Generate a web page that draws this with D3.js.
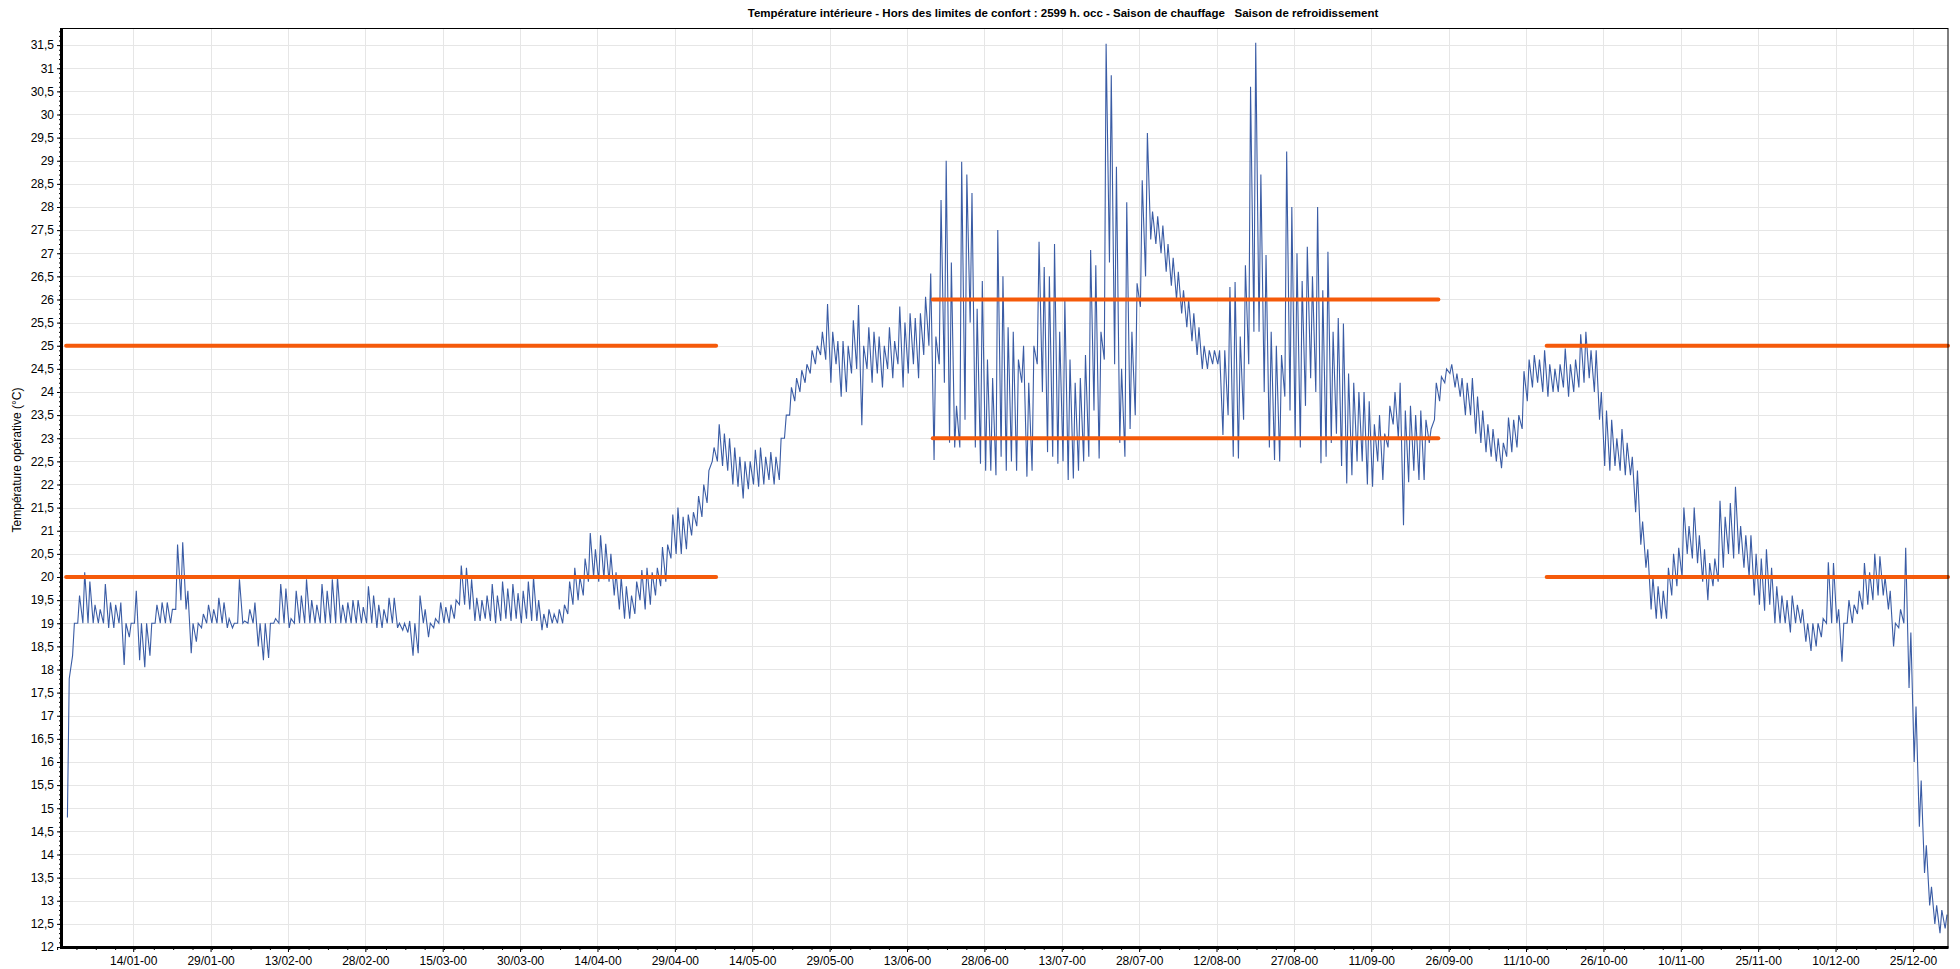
<!doctype html>
<html>
<head>
<meta charset="utf-8">
<title>Température intérieure</title>
<script src="https://d3js.org/d3.v7.min.js"></script>
<style>
  body { margin: 0; background: #fff; }
  text { font-family: "Liberation Sans", Arial, sans-serif; fill: #000; }
  .grid line { stroke: #e6e6e6; stroke-width: 1; }
</style>
</head>
<body>
<script>
// hourly series reduced to daily low / high (day 0 = 1 Jan)
var tMin = [
  14.8, 18.3, 19.0, 19.0, 19.0, 19.0, 19.0, 19.0, 18.9, 18.9,
  19.0, 18.1, 18.7, 19.0, 18.2, 18.05, 18.3, 19.0, 19.0, 19.0,
  19.0, 19.3, 19.5, 19.3, 18.35, 18.6, 18.9, 19.0, 19.0, 19.0,
  19.0, 18.9, 18.9, 19.0, 19.0, 19.0, 19.0, 18.5, 18.2, 18.25,
  19.0, 19.0, 19.0, 18.9, 19.0, 19.0, 19.0, 19.0, 19.0, 19.0,
  19.0, 19.0, 19.0, 19.0, 19.0, 19.0, 19.0, 19.0, 19.0, 19.0,
  18.9, 18.9, 19.0, 19.0, 18.9, 18.85, 18.8, 18.3, 18.35, 19.0,
  18.7, 18.9, 19.0, 19.0, 19.0, 19.1, 19.4, 19.4, 19.3, 19.05,
  19.05, 19.1, 19.05, 19.0, 19.05, 19.1, 19.05, 19.1, 19.0, 19.1,
  19.05, 19.05, 18.85, 18.9, 19.0, 19.0, 19.0, 19.2, 19.4, 19.5,
  19.6, 19.9, 20.0, 19.9, 19.95, 19.9, 19.6, 19.3, 19.1, 19.1,
  19.2, 19.5, 19.3, 19.4, 19.6, 19.8, 19.9, 20.4, 20.5, 20.5,
  20.6, 20.9, 21.1, 21.3, 21.6, 22.5, 22.5, 22.4, 22.3, 22.0,
  21.95, 21.7, 21.9, 22.0, 21.95, 22.0, 22.1, 22.0, 22.1, 23.0,
  23.5, 23.8, 24.0, 24.2, 24.4, 24.6, 24.8, 24.7, 24.2, 24.6,
  23.9, 24.0, 24.4, 24.5, 23.28, 24.5, 24.2, 24.4, 24.1, 24.5,
  24.3, 24.6, 24.1, 24.4, 24.6, 24.3, 24.8, 25.0, 22.53, 24.6,
  24.2, 22.9, 22.8, 22.8, 23.4, 25.5, 22.8, 22.45, 22.3, 22.3,
  22.2, 22.6, 22.3, 22.5, 22.3, 24.2, 22.17, 22.3, 24.6, 24.0,
  22.7, 22.6, 22.45, 22.5, 22.1, 22.13, 22.3, 22.5, 22.6, 23.6,
  22.56, 24.7, 26.8, 24.6, 22.9, 22.6, 23.2, 23.5, 25.84, 26.5,
  27.3, 27.2, 27.0, 26.6, 26.3, 26.0, 25.7, 25.4, 25.1, 24.8,
  24.5, 24.5, 24.6, 24.6, 23.07, 23.5, 22.6, 22.56, 23.4, 24.6,
  25.3, 25.3, 24.0, 22.8, 22.53, 22.5, 23.9, 23.6, 23.0, 22.8,
  23.7, 24.3, 24.0, 22.46, 22.6, 22.9, 23.1, 22.4, 22.02, 22.2,
  22.5, 22.5, 22.0, 21.95, 22.5, 22.1, 22.8, 23.3, 23.0, 21.12,
  22.05, 22.3, 22.1, 22.1, 22.9, 23.4, 23.8, 24.2, 24.4, 24.1,
  23.9, 23.5, 23.5, 23.1, 22.9, 22.7, 22.6, 22.5, 22.35, 22.6,
  22.7, 22.8, 23.2, 23.8, 24.1, 24.2, 24.0, 23.9, 24.0, 24.0,
  24.1, 23.9, 24.0, 24.1, 24.2, 24.3, 24.0, 23.4, 22.4, 22.3,
  22.4, 22.3, 22.2, 22.2, 21.4, 20.7, 20.2, 19.3, 19.1, 19.1,
  19.1, 19.6, 19.8, 20.0, 20.5, 20.4, 20.3, 19.9, 19.5, 19.8,
  19.9, 20.2, 20.5, 20.4, 20.5, 20.2, 20.0, 19.6, 19.4, 19.27,
  19.4, 19.0, 19.0, 19.0, 18.8, 19.0, 19.0, 18.6, 18.4, 18.5,
  18.7, 19.0, 19.0, 19.0, 18.17, 19.0, 19.0, 19.2, 19.3, 19.4,
  19.5, 19.6, 19.6, 19.3, 18.5, 18.9, 19.0, 17.6, 16.0, 14.6,
  13.6, 12.9, 12.5, 12.3, 12.4
];
var tMax = [
  17.8, 19.0, 19.6, 20.1, 19.9, 19.4, 19.3, 19.85, 19.45, 19.4,
  19.45, 19.0, 19.0, 19.7, 19.0, 19.0, 19.0, 19.4, 19.45, 19.45,
  19.3, 20.7, 20.75, 19.7, 19.0, 19.0, 19.2, 19.4, 19.3, 19.55,
  19.45, 19.1, 19.0, 19.95, 19.05, 19.3, 19.45, 19.0, 19.0, 19.0,
  19.1, 19.85, 19.75, 19.1, 19.7, 19.6, 19.95, 19.5, 19.4, 19.85,
  19.7, 19.95, 20.0, 19.4, 19.45, 19.5, 19.5, 19.35, 19.8, 19.6,
  19.4, 19.3, 19.55, 19.55, 19.0, 19.0, 19.05, 19.0, 19.6, 19.3,
  19.0, 19.1, 19.45, 19.35, 19.4, 19.5, 20.25, 20.2, 19.95, 19.55,
  19.5, 19.6, 19.85, 19.6, 19.9, 19.75, 19.85, 19.65, 19.7, 19.9,
  20.0, 19.5, 19.2, 19.3, 19.2, 19.3, 19.4, 19.9, 20.2, 20.0,
  20.4, 20.95, 20.6, 20.9, 20.72, 20.5, 20.1, 20.0, 19.8, 19.6,
  19.9, 20.15, 20.2, 20.1, 20.2, 20.65, 20.7, 21.35, 21.5, 21.3,
  21.35, 21.4, 21.75, 22.0, 22.3, 22.8, 23.3, 23.1, 23.0, 22.8,
  22.6, 22.5, 22.5, 22.75, 22.8, 22.6, 22.7, 22.6, 23.0, 23.5,
  24.1, 24.3, 24.47, 24.6, 24.9, 25.0, 25.3, 25.9, 25.3, 25.1,
  25.1, 25.0, 25.55, 25.88, 25.0, 25.4, 25.3, 25.2, 25.0, 25.4,
  25.1, 25.85, 25.5, 25.7, 25.6, 25.7, 26.06, 26.56, 25.2, 28.15,
  29.0, 26.8, 23.7, 28.98, 28.7, 28.3, 25.8, 26.4, 24.7, 24.3,
  27.5, 26.5, 25.4, 25.3, 24.7, 25.0, 24.2, 25.0, 27.25, 26.7,
  26.5, 27.2, 25.3, 26.0, 24.7, 24.2, 24.3, 24.8, 27.07, 26.74,
  25.3, 31.53, 30.85, 28.87, 24.5, 28.1, 25.3, 26.35, 28.58, 29.6,
  27.9, 27.8, 27.6, 27.2, 26.9, 26.6, 26.2, 26.0, 25.7, 25.4,
  25.0, 24.9, 24.9, 24.9, 24.9, 26.27, 26.38, 25.2, 26.74, 30.6,
  31.55, 28.7, 26.96, 25.3, 25.0, 24.8, 29.2, 28.0, 27.0, 26.4,
  27.14, 26.5, 28.0, 26.2, 27.03, 25.3, 25.6, 25.48, 24.4, 24.2,
  24.0, 24.0, 23.8, 23.3, 23.5, 23.1, 23.7, 24.0, 24.2, 23.6,
  23.7, 23.5, 23.6, 23.4, 23.2, 24.2, 24.33, 24.5, 24.6, 24.4,
  24.3, 24.2, 24.3, 23.9, 23.6, 23.3, 23.2, 23.0, 22.9, 23.45,
  23.4, 23.5, 24.45, 24.7, 24.8, 24.7, 24.9, 24.6, 24.5, 24.6,
  24.94, 24.6, 24.7, 25.25, 25.3, 24.9, 24.9, 24.0, 23.6, 23.4,
  23.0, 23.2, 22.9, 22.6, 22.3, 21.2, 20.6, 20.0, 19.8, 19.7,
  20.2, 20.5, 20.63, 21.5, 21.1, 21.5, 20.9, 20.6, 20.3, 20.4,
  21.65, 21.3, 21.6, 21.95, 21.1, 20.9, 20.9, 20.5, 20.4, 20.6,
  20.2, 19.8, 19.6, 19.5, 19.6, 19.4, 19.3, 19.0, 19.0, 19.0,
  19.1, 20.32, 20.3, 19.3, 19.0, 19.5, 19.4, 19.7, 20.3, 20.1,
  20.5, 20.45, 20.0, 19.7, 19.0, 19.3, 20.63, 18.8, 17.2, 15.6,
  14.2, 13.3, 12.9, 12.8, 12.7
];

// comfort limits per season
var seasonStart = [0, 168, 287];
var seasonEnd = [126, 266, 365];
var seasonLow = [20, 23, 20];
var seasonHigh = [25, 26, 25];

var yTicks = d3.range(12, 31.51, 0.5);
var xTickDays = d3.range(13, 365, 15);

var title = "Température intérieure - Hors des limites de confort : 2599 h. occ - Saison de chauffage\u00a0\u00a0 Saison de refroidissement";
var yTitle = "Température opérative (°C)";

var W = 1960, H = 969;
var plotL = 62, plotT = 28, plotR = 1948, plotB = 947;

var svg = d3.select("body").append("svg")
    .attr("width", W)
    .attr("height", H);

svg.append("rect").attr("width", W).attr("height", H).attr("fill", "#fff");

var x = d3.scaleLinear().domain([-0.8, 364.8]).range([plotL, plotR]);
var y = d3.scaleLinear().domain([12, 31.87]).range([plotB, plotT]);

// date labels use a 365 day year
var fmt = d3.utcFormat("%d/%m");
function dayLabel(d) {
    return fmt(new Date(Date.UTC(2001, 0, 1 + d))) + "-00";
}

// grid
var grid = svg.append("g").attr("class", "grid");
grid.selectAll("line.h")
    .data(yTicks)
    .enter().append("line")
    .attr("x1", plotL).attr("x2", plotR)
    .attr("y1", function(d) { return Math.round(y(d)) + 0.5; })
    .attr("y2", function(d) { return Math.round(y(d)) + 0.5; });
grid.selectAll("line.v")
    .data(xTickDays)
    .enter().append("line")
    .attr("y1", plotT).attr("y2", plotB)
    .attr("x1", function(d) { return Math.round(x(d)) + 0.5; })
    .attr("x2", function(d) { return Math.round(x(d)) + 0.5; });

// temperature line: low then high inside each day
var pts = [];
tMin.forEach(function(v, i) {
    pts.push([i + 0.25, v]);
    pts.push([i + 0.6, tMax[i]]);
});

var line = d3.line()
    .x(function(d) { return x(d[0]); })
    .y(function(d) { return y(d[1]); });

svg.append("path")
    .datum(pts)
    .attr("fill", "none")
    .attr("stroke", "#3a5ca5")
    .attr("stroke-width", 1.1)
    .attr("d", line);

// comfort limits
var limits = svg.append("g");
seasonStart.forEach(function(s, i) {
    [seasonLow[i], seasonHigh[i]].forEach(function(v) {
        limits.append("line")
            .attr("x1", x(s)).attr("x2", Math.min(x(seasonEnd[i]), plotR))
            .attr("y1", y(v)).attr("y2", y(v))
            .attr("stroke", "#f55a0a")
            .attr("stroke-width", 4)
            .attr("stroke-linecap", "round");
    });
});

// frame
svg.append("rect")
    .attr("x", plotL).attr("y", plotT + 0.5)
    .attr("width", plotR - plotL).attr("height", plotB - plotT)
    .attr("fill", "none").attr("stroke", "#000").attr("stroke-width", 1);

// y axis
var yAxis = svg.append("g")
    .attr("transform", "translate(" + (plotL - 1) + ",0)")
    .call(d3.axisLeft(y)
        .tickValues(yTicks)
        .tickSize(4)
        .tickPadding(3)
        .tickFormat(function(d) { return String(d).replace(".", ","); }));
yAxis.select(".domain").remove();
yAxis.selectAll("text").style("font-size", "12px").style("font-family", "Liberation Sans");

svg.append("g")
    .attr("transform", "translate(" + (plotL - 1) + ",0)")
    .call(d3.axisLeft(y).tickValues(d3.range(12, 31.85, 0.1)).tickSize(2).tickFormat(""))
    .select(".domain").remove();

// x axis
var xAxis = svg.append("g")
    .attr("transform", "translate(0," + (plotB + 1) + ")")
    .call(d3.axisBottom(x)
        .tickValues(xTickDays)
        .tickSize(4)
        .tickPadding(4)
        .tickFormat(dayLabel));
xAxis.select(".domain").remove();
xAxis.selectAll("text").style("font-size", "12px").style("font-family", "Liberation Sans");

svg.append("g")
    .attr("transform", "translate(0," + (plotB + 1) + ")")
    .call(d3.axisBottom(x).tickValues(d3.range(-1.75, 365, 3.75)).tickSize(2).tickFormat(""))
    .select(".domain").remove();

// thick axis lines
svg.append("line")
    .attr("x1", plotL - 0.5).attr("x2", plotL - 0.5)
    .attr("y1", plotT).attr("y2", plotB + 2)
    .attr("stroke", "#000").attr("stroke-width", 3);
svg.append("line")
    .attr("x1", plotL - 2).attr("x2", plotR + 0.5)
    .attr("y1", plotB + 0.5).attr("y2", plotB + 0.5)
    .attr("stroke", "#000").attr("stroke-width", 3);

// titles
svg.append("text")
    .attr("x", 1063).attr("y", 17)
    .attr("text-anchor", "middle")
    .style("font-weight", "bold")
    .style("font-size", "11.5px")
    .text(title);

svg.append("text")
    .attr("transform", "translate(21,460) rotate(-90)")
    .attr("text-anchor", "middle")
    .style("font-size", "12px")
    .text(yTitle);
</script>
</body>
</html>
